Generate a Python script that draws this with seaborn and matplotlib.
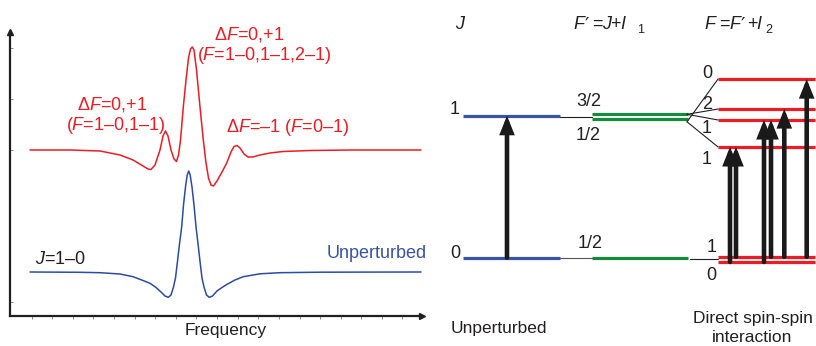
import numpy as np
import pandas as pd
import matplotlib
matplotlib.use("Agg")
import matplotlib.pyplot as plt
import seaborn as sns

# ---------------- data ----------------
# Left panel: spectra (frequency, intensity), arbitrary units
red_freq = [20, 60, 90, 110, 123, 133, 138, 141, 145, 150, 153, 155.5, 158, 161, 164,
            166.5, 168.5, 170.5, 173.3, 176, 178.5, 180.5, 182.3, 184, 186.5, 190,
            193.3, 196, 198.5, 201, 203.5, 207, 212, 216.7, 221, 224, 227, 230, 234,
            238, 243, 250, 260, 273, 300, 340, 411]
red_int = [166, 166, 165, 161, 156, 150, 147, 146.5, 151, 166, 180, 185, 180, 166, 157,
           154.5, 161, 176, 209, 236, 258, 267, 269, 266, 246, 209,
           176, 153, 138, 131, 130, 135, 144, 153, 164, 169.5, 170.5, 168, 162,
           159, 159, 161, 163, 164.5, 165.5, 166, 166]

blue_freq = [20, 70, 90, 110, 123, 133, 140, 146, 151, 155, 158.3, 161, 163.5, 165.5,
             167.3, 169, 171.7, 173.5, 175.5, 177.2, 178.7, 180.2, 182, 184, 186,
             188.5, 190.2, 192, 194, 196.5, 199.3, 202.5, 207, 212, 216.7, 225,
             233.3, 250, 270, 310, 411]
blue_int = [44, 43.7, 43.3, 42, 39.3, 35.5, 32.7, 28.5, 24, 20, 18.7, 21, 29, 38,
            53, 68, 89.3, 111, 129, 141, 145, 141, 129, 111, 89.3,
            68, 53, 38, 29, 21, 18.7, 20, 25, 28.5, 31.5, 36,
            39.3, 42.2, 43.3, 43.8, 44]

# Right panel: energy levels (arbitrary energy units, J=0 -> 0, J=1 -> 1)
J_levels = [0.0, 1.0]
J_labels = ["0", "1"]
Fp_lower_levels = [0.0]
Fp_lower_labels = ["1/2"]
Fp_upper_levels = [1.010, 0.977]
Fp_upper_labels = ["3/2", "1/2"]
F_upper_levels = [1.258, 1.047, 0.970, 0.780]
F_upper_labels = ["0", "2", "1", "1"]
F_lower_levels = [0.006, -0.030]
F_lower_labels = ["1", "0"]
# splitting: F' upper index -> F upper index
split_links = [(1, 0), (0, 1), (0, 2), (1, 3)]
# transitions: (F lower index, F upper index)
transitions = [(1, 3), (0, 3), (1, 2), (0, 2), (0, 1), (0, 0)]

# ---------------- style ----------------
sns.set_theme(style="white")
plt.rcParams["font.family"] = ["Liberation Sans", "DejaVu Sans"]
plt.rcParams["mathtext.fontset"] = "custom"
plt.rcParams["mathtext.rm"] = "Liberation Sans"
plt.rcParams["mathtext.it"] = "Liberation Sans:italic"

RED = "#ec1c24"
BLUE = "#3953a4"
BLUE_CURVE = "#2c4ca2"
GREEN = "#138a3d"
BLACK = "#231f20"

W, H = 816, 346
fig = plt.figure(figsize=(W / 100, H / 100), dpi=100)


def ftext(px, py, s, **kw):
    fig.text(px / W, 1 - py / H, s, **kw)


# ---------------- left panel ----------------
axL = fig.add_axes([10 / W, 30 / H, 412 / W, 284 / H])
sns.lineplot(x=red_freq, y=red_int, sort=False, estimator=None, ax=axL,
             color=RED, linewidth=1.1)
sns.lineplot(x=blue_freq, y=blue_int, sort=False, estimator=None, ax=axL,
             color=BLUE_CURVE, linewidth=1.1)
axL.set_xlim(0, 412)
axL.set_ylim(0, 284)
for s in ["top", "right"]:
    axL.spines[s].set_visible(False)
for s in ["left", "bottom"]:
    axL.spines[s].set_linewidth(1.6)
    axL.spines[s].set_color(BLACK)
axL.set_xticks(np.arange(1, 20) * 20.6 + 1.1)
axL.set_yticks([14, 166, 217, 268])
axL.set_xticklabels([])
axL.set_yticklabels([])
axL.tick_params(axis="x", bottom=True, direction="out", length=2.5, width=0.6, color="#777777")
axL.tick_params(axis="y", left=True, direction="in", length=2.5, width=0.6, color="#777777")
axL.set_xlabel("")
axL.set_ylabel("")
axL.plot(0, 1, marker="^", ms=4, color=BLACK, transform=axL.transAxes, clip_on=False)
axL.plot(1, 0, marker=">", ms=4, color=BLACK, transform=axL.transAxes, clip_on=False)

fs = 13
ftext(249, 35, r"$\Delta F$=0,+1", ha="center", va="center", color=RED, fontsize=fs)
ftext(264.5, 56, r"($F$=1–0,1–1,2–1)", ha="center", va="center", color=RED, fontsize=fs)
ftext(112, 104, r"$\Delta F$=0,+1", ha="center", va="center", color=RED, fontsize=fs)
ftext(116, 126, r"($F$=1–0,1–1)", ha="center", va="center", color=RED, fontsize=fs)
ftext(287, 127, r"$\Delta F$=–1 ($F$=0–1)", ha="center", va="center", color=RED, fontsize=fs)
ftext(60, 259, r"$J$=1–0", ha="center", va="center", color=BLACK, fontsize=fs)
ftext(376.5, 253, "Unperturbed", ha="center", va="center", color=BLUE, fontsize=fs)
ftext(225.5, 331, "Frequency", ha="center", va="center", color=BLACK, fontsize=12.5)

# ---------------- right panel ----------------
axR = fig.add_axes([430 / W, 0, 386 / W, 1])
axR.set_xlim(430, 816)
axR.set_ylim(-0.622, 1.815)
axR.axis("off")

bx0, bx1 = 463, 560
gx0, gx1 = 592, 688
rx0, rx1 = 718, 815
lw_level = 2.3

axR.hlines(J_levels, bx0, bx1, colors=BLUE, lw=lw_level)
axR.hlines(Fp_lower_levels + Fp_upper_levels, gx0, gx1, colors=GREEN, lw=lw_level)
axR.hlines(F_upper_levels + F_lower_levels, rx0, rx1, colors=RED, lw=lw_level)

# connectors
axR.plot([bx1, gx0], [0.993, 0.993], color=BLACK, lw=0.8)
axR.plot([bx1, gx0], [J_levels[0], Fp_lower_levels[0]], color="#555555", lw=0.8)
axR.plot([gx1 + 2, rx0], [-0.01, -0.01], color=BLACK, lw=0.8)
for gi, fi in split_links:
    axR.plot([gx1 - 1, rx0], [Fp_upper_levels[gi] - (0.02 if gi == 1 else 0), F_upper_levels[fi]],
             color=BLACK, lw=0.8)

arrow_kw = dict(arrowstyle="-|>,head_length=0.8,head_width=0.32", color="#1a1a1a",
                lw=3.3, shrinkA=0, shrinkB=0, mutation_scale=10, joinstyle="miter")
axR.annotate("", xy=(507, J_levels[1]), xytext=(507, J_levels[0]), arrowprops=arrow_kw)
arrow_x = [730, 736, 764, 771, 784.3, 806.7]
for x, (lo, up) in zip(arrow_x, transitions):
    axR.annotate("", xy=(x, F_upper_levels[up]), xytext=(x, F_lower_levels[lo]),
                 arrowprops=arrow_kw)

# headers (pieces, baseline aligned)
lfs = 13
hb = 29
tk = dict(ha="left", va="baseline", color=BLACK, fontsize=lfs)
pk = dict(ha="left", va="baseline", color=BLACK, fontsize=14, family=["DejaVu Sans"])
PRIME = "\u2032"
ftext(455, hb, "J", style="italic", **tk)
# F' = J + I_1
ftext(573, hb, "F", style="italic", **tk)
ftext(585, hb + 1, PRIME, **pk)
ftext(592, hb, "=", **tk)
ftext(602, hb, "J", style="italic", **tk)
ftext(610, hb, "+", **tk)
ftext(620, hb, "I", style="italic", **tk)
ftext(637, 33, "1", ha="left", va="baseline", color=BLACK, fontsize=9)
# F = F' + I_2
ftext(704, hb, "F", style="italic", **tk)
ftext(719, hb, "=", **tk)
ftext(729, hb, "F", style="italic", **tk)
ftext(741, hb + 1, PRIME, **pk)
ftext(747, hb, "+", **tk)
ftext(756, hb, "I", style="italic", **tk)
ftext(765, 33, "2", ha="left", va="baseline", color=BLACK, fontsize=9)

ftext(455, 110, J_labels[1], ha="center", va="center", color=BLACK, fontsize=lfs)
ftext(455, 253, J_labels[0], ha="center", va="center", color=BLACK, fontsize=lfs)
ftext(589, 102, Fp_upper_labels[0], ha="center", va="center", color=BLACK, fontsize=lfs)
ftext(588, 135, Fp_upper_labels[1], ha="center", va="center", color=BLACK, fontsize=lfs)
ftext(590, 243, Fp_lower_labels[0], ha="center", va="center", color=BLACK, fontsize=lfs)
for py, lab in zip([73, 104, 129, 159], F_upper_labels):
    ftext(707, py, lab, ha="center", va="center", color=BLACK, fontsize=lfs)
for py, lab in zip([248, 275], F_lower_labels):
    ftext(711.5, py, lab, ha="center", va="center", color=BLACK, fontsize=lfs)
ftext(499, 328, "Unperturbed", ha="center", va="center", color=BLACK, fontsize=12.5)
ftext(753, 318, "Direct spin-spin", ha="center", va="center", color=BLACK, fontsize=12.5)
ftext(752, 338, "interaction", ha="center", va="center", color=BLACK, fontsize=12.5)

fig.savefig("out.png", dpi=100)
